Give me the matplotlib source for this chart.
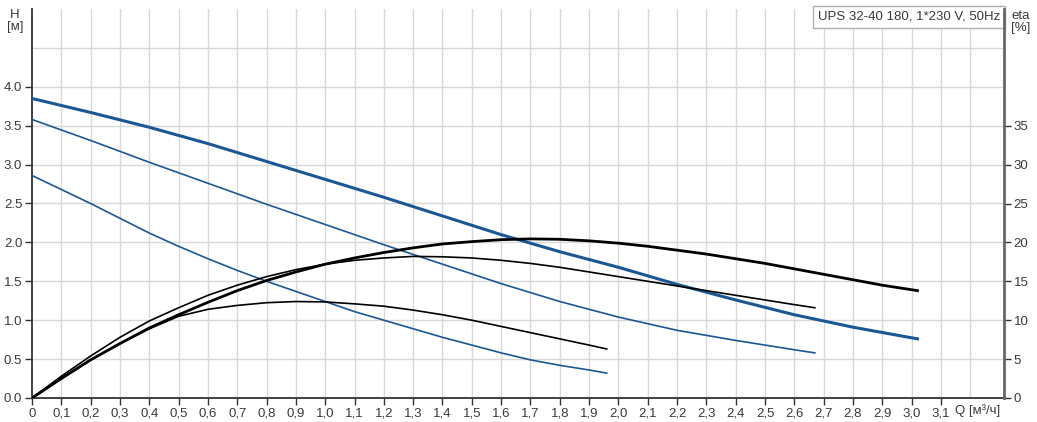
#!/usr/bin/env python3
"""
Pump curve sheet for UPS 32-40 180: head (H) and efficiency (eta)
against flow Q for the three speed settings.
"""

import numpy as np
import matplotlib.pyplot as plt
from matplotlib.transforms import blended_transform_factory

plt.rcParams['font.family'] = ['Liberation Sans', 'DejaVu Sans']

# Head curves, H [m] vs Q [m3/h]
q_h3 = [0.0, 0.2, 0.4, 0.6, 0.8, 1.0, 1.2, 1.4, 1.6, 1.8, 2.0, 2.2, 2.4, 2.6, 2.8, 3.02]
h_h3 = [3.85, 3.67, 3.48, 3.27, 3.04, 2.81, 2.58, 2.34, 2.10, 1.88, 1.68, 1.46, 1.26, 1.07, 0.91, 0.76]

q_h2 = [0.0, 0.2, 0.4, 0.6, 0.8, 1.0, 1.2, 1.4, 1.6, 1.8, 2.0, 2.2, 2.4, 2.6, 2.67]
h_h2 = [3.58, 3.31, 3.03, 2.76, 2.49, 2.23, 1.97, 1.72, 1.47, 1.24, 1.04, 0.87, 0.74, 0.62, 0.58]

q_h1 = [0.0, 0.1, 0.2, 0.3, 0.4, 0.5, 0.6, 0.7, 0.8, 0.9, 1.0, 1.1, 1.2, 1.3,
        1.4, 1.5, 1.6, 1.7, 1.8, 1.9, 1.96]
h_h1 = [2.86, 2.68, 2.50, 2.31, 2.12, 1.95, 1.79, 1.64, 1.50, 1.37, 1.24, 1.11, 1.00, 0.89,
        0.78, 0.68, 0.58, 0.49, 0.42, 0.36, 0.32]

# Efficiency curves, eta [%] vs Q [m3/h]
q_e3 = [0.0, 0.1, 0.2, 0.3, 0.4, 0.5, 0.6, 0.7, 0.8, 0.9, 1.0, 1.1, 1.2, 1.3, 1.4, 1.5,
        1.6, 1.7, 1.8, 1.9, 2.0, 2.1, 2.2, 2.3, 2.4, 2.5, 2.6, 2.7, 2.8, 2.9, 3.02]
e_e3 = [0.0, 2.5, 4.9, 7.0, 9.0, 10.7, 12.3, 13.8, 15.1, 16.2, 17.2, 18.0, 18.7, 19.3, 19.8, 20.1,
        20.35, 20.45, 20.4, 20.2, 19.9, 19.5, 19.0, 18.5, 17.9, 17.3, 16.6, 15.9, 15.2, 14.5, 13.8]

q_e2 = [0.0, 0.1, 0.2, 0.3, 0.4, 0.5, 0.6, 0.7, 0.8, 0.9, 1.0, 1.1, 1.2, 1.3, 1.4,
        1.5, 1.6, 1.7, 1.8, 1.9, 2.0, 2.1, 2.2, 2.3, 2.4, 2.5, 2.6, 2.67]
e_e2 = [0.0, 2.8, 5.4, 7.8, 9.9, 11.6, 13.2, 14.5, 15.6, 16.5, 17.2, 17.7, 18.0, 18.2, 18.15,
        18.0, 17.7, 17.3, 16.8, 16.2, 15.6, 15.0, 14.4, 13.8, 13.2, 12.6, 12.0, 11.6]

q_e1 = [0.0, 0.1, 0.2, 0.3, 0.4, 0.5, 0.6, 0.7, 0.8, 0.9, 1.0, 1.1, 1.2, 1.3,
        1.4, 1.5, 1.6, 1.7, 1.8, 1.9, 1.96]
e_e1 = [0.0, 2.5, 4.9, 7.0, 8.9, 10.5, 11.4, 11.9, 12.25, 12.4, 12.35, 12.1, 11.8, 11.3,
        10.7, 10.0, 9.2, 8.4, 7.6, 6.8, 6.3]

x_ticks = np.round(np.arange(0, 3.15, 0.1), 1)
x_labels = ['0'] + [f'{v:.1f}'.replace('.', ',') for v in x_ticks[1:]]
h_ticks = np.arange(0, 4.01, 0.5)
eta_ticks = np.arange(0, 36, 5)

title = 'UPS 32-40 180, 1*230 V, 50Hz'

BLUE = '#1b5794'
TXT = '#3a3a3a'
GRID = '#d8d8d8'


def main():
    fig = plt.figure(figsize=(10.37, 4.22), dpi=100)
    ax = fig.add_axes([32 / 1037, 24 / 422, 972 / 1037, 389 / 422])

    ax.set_xlim(0, 3.315)
    ax.set_ylim(0, 5.0)

    # grid every 0.1 in Q and 0.5 in H
    for gx in np.arange(0.1, 3.25, 0.1):
        ax.axvline(gx, color=GRID, lw=1.0, zorder=0)
    for gy in np.arange(0.5, 4.6, 0.5):
        ax.axhline(gy, color=GRID, lw=1.0, zorder=0)

    ax.plot(q_h1, h_h1, color=BLUE, lw=1.2, zorder=3)
    ax.plot(q_h2, h_h2, color=BLUE, lw=1.2, zorder=3)
    ax.plot(q_h3, h_h3, color=BLUE, lw=2.2, zorder=3)

    ax2 = ax.twinx()
    ax2.set_ylim(0, 50)
    ax2.plot(q_e1, e_e1, color='black', lw=1.2, zorder=3)
    ax2.plot(q_e2, e_e2, color='black', lw=1.2, zorder=3)
    ax2.plot(q_e3, e_e3, color='black', lw=2.0, zorder=3)

    ax.set_xticks(x_ticks)
    ax.set_xticklabels(x_labels)
    ax.set_yticks(h_ticks)
    ax.set_yticklabels([f'{v:.1f}' for v in h_ticks])
    ax2.set_yticks(eta_ticks)

    for a in (ax, ax2):
        a.tick_params(direction='out', length=5, width=1, colors='#333333',
                      labelcolor=TXT, labelsize=9.5, pad=2)
        a.spines['top'].set_visible(False)
    ax.spines['right'].set_visible(False)
    ax2.spines['left'].set_visible(False)
    ax2.spines['bottom'].set_visible(False)
    ax.spines['left'].set_color('#333333')
    ax.spines['left'].set_linewidth(1.3)
    ax.spines['bottom'].set_color('#333333')
    ax.spines['bottom'].set_linewidth(1.3)
    ax2.spines['right'].set_color('#666666')
    ax2.spines['right'].set_linewidth(2.0)

    # axis captions
    fig.text(15 / 1037, 1 - 21 / 422, 'H\n[м]', ha='center', va='center',
             fontsize=9.5, color=TXT, linespacing=1.1)
    fig.text(1011 / 1037, 1 - 22 / 422, 'eta\n[%]', ha='left', va='center',
             fontsize=9.5, color=TXT, linespacing=1.1)
    trans = blended_transform_factory(ax.transData, ax.transAxes)
    ax.text(3.225, -0.015, 'Q [м³/ч]', transform=trans, ha='center', va='top',
            fontsize=9.5, color=TXT)

    ax.text(0.996, 0.995, title, transform=ax.transAxes, ha='right', va='top',
            fontsize=9.5, color=TXT, zorder=5,
            bbox=dict(boxstyle='square,pad=0.35', fc='white', ec='#b0b0b0', lw=1))

    fig.savefig('out.png', dpi=100)


if __name__ == '__main__':
    main()
